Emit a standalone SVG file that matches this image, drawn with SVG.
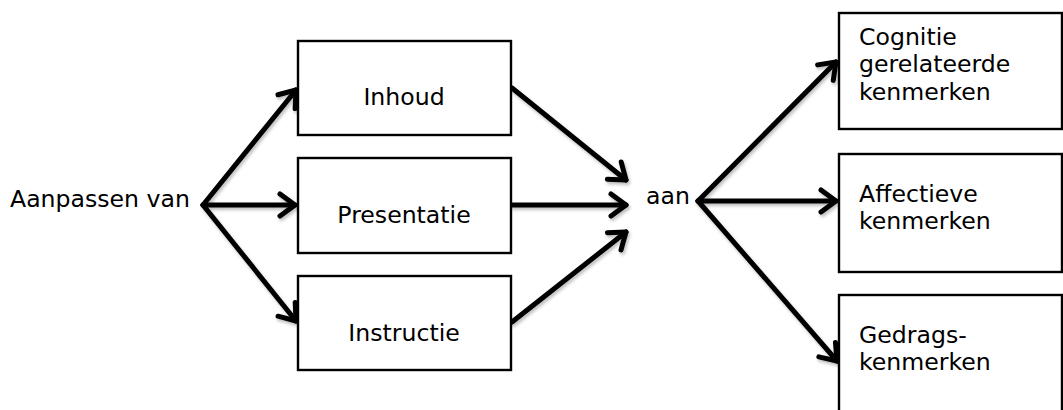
<svg xmlns="http://www.w3.org/2000/svg" width="1063" height="410" viewBox="0 0 1063 410">
  <style>
    .box { fill: #ffffff; stroke: #000000; stroke-width: 2.4; }
    .lbl { font-family: "DejaVu Sans", Verdana, sans-serif; font-size: 23.6px; fill: #000000; }
    .mid { text-anchor: middle; }
    .conn { fill: none; stroke: #000000; stroke-width: 5; stroke-linecap: round; }
  </style>
  <defs>
    <marker id="head" markerUnits="userSpaceOnUse" markerWidth="40" markerHeight="40" refX="0" refY="0" viewBox="-20 -20 40 40" orient="auto" overflow="visible">
      <path d="M -15 -11 L 0 0 L -15 11" fill="none" stroke="#000000" stroke-width="5" stroke-linecap="round" stroke-linejoin="round"/>
    </marker>
    <filter id="shade" x="-10%" y="-10%" width="130%" height="140%">
      <feDropShadow dx="1.5" dy="2.5" stdDeviation="1.8" flood-color="#000000" flood-opacity="0.25"/>
    </filter>
  </defs>

  <rect width="1063" height="410" fill="#ffffff"/>

  <!-- connectors -->
  <g id="connectors" class="conn" filter="url(#shade)">
    <line x1="203" y1="205" x2="296" y2="90" marker-end="url(#head)"/>
    <line x1="203" y1="205" x2="295" y2="205" marker-end="url(#head)"/>
    <line x1="203" y1="205" x2="296" y2="321" marker-end="url(#head)"/>
    <line x1="512" y1="88" x2="626" y2="180" marker-end="url(#head)"/>
    <line x1="512" y1="205" x2="626" y2="205" marker-end="url(#head)"/>
    <line x1="512" y1="322" x2="626" y2="232" marker-end="url(#head)"/>
    <line x1="698" y1="201" x2="836" y2="62" marker-end="url(#head)"/>
    <line x1="698" y1="201" x2="836" y2="201" marker-end="url(#head)"/>
    <line x1="698" y1="201" x2="837" y2="361" marker-end="url(#head)"/>
  </g>

  <!-- free labels -->
  <g id="source">
    <text class="lbl" x="10" y="207">Aanpassen van</text>
  </g>
  <g id="joint">
    <text class="lbl" x="646" y="204">aan</text>
  </g>

  <!-- adjustable aspects -->
  <g id="inhoud">
    <rect class="box" x="298" y="41" width="213" height="94"/>
    <text class="lbl mid" x="404" y="105">Inhoud</text>
  </g>
  <g id="presentatie">
    <rect class="box" x="298" y="158" width="213" height="95"/>
    <text class="lbl mid" x="404" y="223">Presentatie</text>
  </g>
  <g id="instructie">
    <rect class="box" x="298" y="276" width="213" height="94"/>
    <text class="lbl mid" x="404" y="341">Instructie</text>
  </g>

  <!-- learner characteristics -->
  <g id="cognitie">
    <rect class="box" x="839" y="13" width="223" height="116"/>
    <text class="lbl" x="859" y="45">Cognitie</text>
    <text class="lbl" x="859" y="72">gerelateerde</text>
    <text class="lbl" x="859" y="100">kenmerken</text>
  </g>
  <g id="affectief">
    <rect class="box" x="839" y="154" width="223" height="118"/>
    <text class="lbl" x="859" y="202">Affectieve</text>
    <text class="lbl" x="859" y="229">kenmerken</text>
  </g>
  <g id="gedrag">
    <rect class="box" x="839" y="295" width="223" height="125"/>
    <text class="lbl" x="859" y="343">Gedrags-</text>
    <text class="lbl" x="859" y="370">kenmerken</text>
  </g>
</svg>
